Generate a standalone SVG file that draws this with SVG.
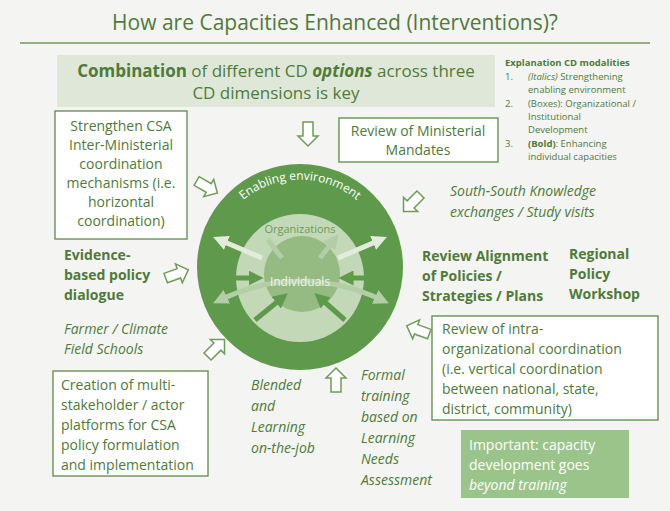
<svg xmlns="http://www.w3.org/2000/svg" width="670" height="511" viewBox="0 0 670 511">
<defs><style>
text{font-family:"Open Sans","Liberation Sans",sans-serif;fill:#4f7a3a}
.b{font-size:14px}
.it{font-style:italic}
.bd{font-weight:bold}
.box{fill:#fff;stroke:#5e8a48;stroke-width:1.3}
.ar{fill:#fff;stroke:#6f9a5a;stroke-width:1.5}
.ex{font-size:9.5px}
</style>
<g id="hol"><path class="ar" d="M-12,-5 L2,-5 L2,-10 L12,0 L2,10 L2,5 L-12,5 Z"/></g>
<marker id="mD" viewBox="0 0 10 10" refX="5" refY="5" markerWidth="3" markerHeight="3" orient="auto-start-reverse"><path d="M0,0 L10,5 L0,10 Z" fill="#5f9a4c"/></marker>
<marker id="mL" viewBox="0 0 10 10" refX="5" refY="5" markerWidth="3" markerHeight="3" orient="auto-start-reverse"><path d="M0,0 L10,5 L0,10 Z" fill="#e3ecdc"/></marker>
<marker id="mM" viewBox="0 0 10 10" refX="5" refY="5" markerWidth="3" markerHeight="3" orient="auto-start-reverse"><path d="M0,0 L10,5 L0,10 Z" fill="#b3cda6"/></marker>
</defs>
<rect width="670" height="511" fill="#f4f4f2"/>
<g id="title"><text x="335" y="30" text-anchor="middle" font-size="21">How are Capacities Enhanced (Interventions)?</text>
<line x1="20" y1="43" x2="650" y2="43" stroke="#6f9a5a" stroke-width="1.3"/></g>
<g id="combo"><rect x="57" y="55" width="438" height="52" fill="#dfe8d8"/>
<text x="276" y="77" text-anchor="middle" font-size="17" class="bd">Combination <tspan font-weight="normal">of different CD</tspan> <tspan font-style="italic">options</tspan> <tspan font-weight="normal">across three</tspan></text>
<text x="276" y="99" text-anchor="middle" font-size="17">CD dimensions is key</text></g>
<g id="expl" class="ex"><text x="505" y="66" class="ex bd">Explanation CD modalities</text>
<text x="505" y="80" class="ex">1.</text><text x="528" y="80" class="ex"><tspan font-style="italic">(Italics)</tspan> Strengthening</text><text x="528" y="93" class="ex">enabling environment</text>
<text x="505" y="107" class="ex">2.</text><text x="528" y="107" class="ex">(Boxes): Organizational /</text><text x="528" y="120" class="ex">Institutional</text><text x="528" y="133" class="ex">Development</text>
<text x="505" y="147" class="ex">3.</text><text x="528" y="147" class="ex"><tspan font-weight="bold">(Bold)</tspan>: Enhancing</text><text x="528" y="160" class="ex">individual capacities</text></g>
<g id="circle">
<circle cx="300" cy="267" r="103" fill="#5f9a4c"/>
<circle cx="300" cy="278" r="64" fill="#c2d8b6"/>
<circle cx="302" cy="274" r="38" fill="#95ba82"/>
<path id="arc" d="M225,220 A90,90 0 0 1 375,220" fill="none"/>
<text font-size="12" style="fill:#fff"><textPath href="#arc" startOffset="50%" text-anchor="middle">Enabling environment</textPath></text>
<text x="300" y="233" text-anchor="middle" font-size="11" style="fill:#6f9a5a">Organizations</text>
<g stroke-width="5" fill="none">
<path d="M262,258 L220,240" stroke="#e3ecdc" marker-end="url(#mL)"/><path d="M338,258 L380,240" stroke="#e3ecdc" marker-end="url(#mL)"/>
<path d="M220,278 L256,278" stroke="#5f9a4c" marker-end="url(#mD)"/><path d="M380,278 L346,278" stroke="#5f9a4c" marker-end="url(#mD)"/>
<path d="M255,320 L282,298" stroke="#5f9a4c" marker-end="url(#mD)"/><path d="M345,320 L320,298" stroke="#5f9a4c" marker-end="url(#mD)"/>
<path d="M220,300 Q300,262 382,300" stroke="#b3cda6" marker-start="url(#mM)" marker-end="url(#mM)"/>
<path d="M282,258 L268,240 M320,258 L334,240" stroke="#b3cda6" marker-end="url(#mM)"/>
</g>
<text x="300" y="286" text-anchor="middle" font-size="12" style="fill:#eef4ea">Individuals</text>
</g>
<g id="n1"><rect class="box" x="55" y="111" width="132" height="128"/>
<text class="b" text-anchor="middle"><tspan x="121" y="131">Strengthen CSA</tspan><tspan x="121" y="150">Inter-Ministerial</tspan><tspan x="121" y="169">coordination</tspan><tspan x="121" y="188">mechanisms (i.e.</tspan><tspan x="121" y="207">horizontal</tspan><tspan x="121" y="226">coordination)</tspan></text></g>
<g id="n2"><rect class="box" x="339" y="118" width="159" height="44"/>
<text class="b" text-anchor="middle"><tspan x="418" y="136">Review of Ministerial</tspan><tspan x="418" y="155">Mandates</tspan></text></g>
<g id="n3"><text class="b it"><tspan x="450" y="196">South-South Knowledge</tspan><tspan x="450" y="217">exchanges / Study visits</tspan></text></g>
<g id="n4"><text class="b bd"><tspan x="64" y="260">Evidence-</tspan><tspan x="64" y="280">based policy</tspan><tspan x="64" y="300">dialogue</tspan></text></g>
<g id="n5"><text class="b bd"><tspan x="422" y="261">Review Alignment</tspan><tspan x="422" y="281">of Policies /</tspan><tspan x="422" y="301">Strategies / Plans</tspan></text></g>
<g id="n6"><text class="b bd"><tspan x="569" y="259">Regional</tspan><tspan x="569" y="279">Policy</tspan><tspan x="569" y="299">Workshop</tspan></text></g>
<g id="n7"><text class="b it"><tspan x="64" y="334">Farmer / Climate</tspan><tspan x="64" y="354">Field Schools</tspan></text></g>
<g id="n8"><rect class="box" x="432" y="316" width="226" height="104"/>
<text class="b"><tspan x="442" y="334">Review of intra-</tspan><tspan x="442" y="354">organizational coordination</tspan><tspan x="442" y="374">(i.e. vertical coordination</tspan><tspan x="442" y="394">between national, state,</tspan><tspan x="442" y="414">district, community)</tspan></text></g>
<g id="n9"><rect class="box" x="53" y="371" width="155" height="105"/>
<text class="b"><tspan x="61" y="390">Creation of multi-</tspan><tspan x="61" y="410">stakeholder / actor</tspan><tspan x="61" y="430">platforms for CSA</tspan><tspan x="61" y="450">policy formulation</tspan><tspan x="61" y="470">and implementation</tspan></text></g>
<g id="n10"><text class="b it"><tspan x="251" y="390">Blended</tspan><tspan x="251" y="411">and</tspan><tspan x="251" y="432">Learning</tspan><tspan x="251" y="453">on-the-job</tspan></text></g>
<g id="n11"><text class="b it"><tspan x="361" y="380">Formal</tspan><tspan x="361" y="401">training</tspan><tspan x="361" y="422">based on</tspan><tspan x="361" y="443">Learning</tspan><tspan x="361" y="464">Needs</tspan><tspan x="361" y="485">Assessment</tspan></text></g>
<g id="n12"><rect x="461" y="430" width="168" height="68" fill="#9bc48a"/>
<text class="b" style="fill:#fff"><tspan x="469" y="450">Important: capacity</tspan><tspan x="469" y="470">development goes</tspan><tspan x="469" y="490" font-style="italic">beyond training</tspan></text></g>
<g id="connectors">
<use href="#hol" transform="translate(308,134) rotate(90)"/>
<use href="#hol" transform="translate(207,187) rotate(30)"/>
<use href="#hol" transform="translate(412,203) rotate(135)"/>
<use href="#hol" transform="translate(177,274) rotate(-20)"/>
<use href="#hol" transform="translate(418,330) rotate(200)"/>
<use href="#hol" transform="translate(216,348) rotate(-45)"/>
<use href="#hol" transform="translate(336,380) rotate(-90)"/>
</g>
</svg>
